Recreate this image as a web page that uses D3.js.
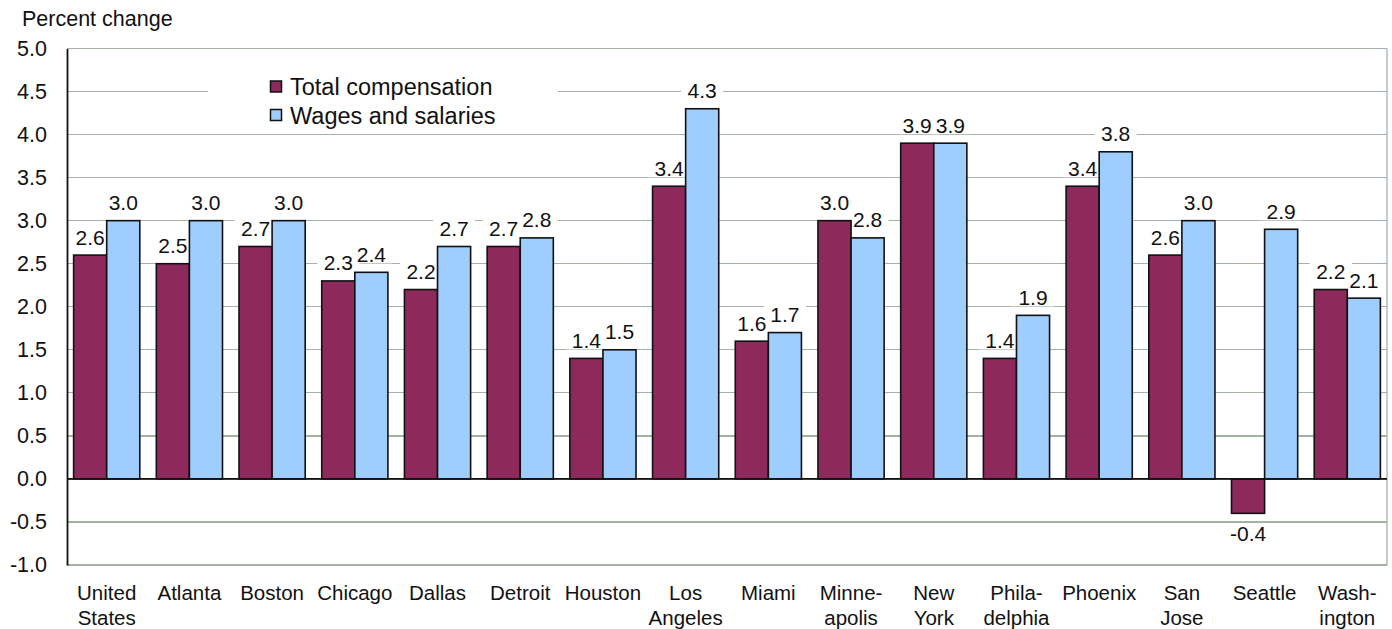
<!DOCTYPE html>
<html>
<head>
<meta charset="utf-8">
<script src="https://cdn.jsdelivr.net/npm/d3@7"></script>
<style>
  html, body { margin: 0; padding: 0; background: #fff; }
  svg { display: block; font-family: Arial, "Liberation Sans", sans-serif; }
</style>
</head>
<body>
<svg id="chart" width="1392" height="629"></svg>
<script>
// Metro areas (line breaks split with "\n")
const categories = [
  "United\nStates", "Atlanta", "Boston", "Chicago", "Dallas", "Detroit",
  "Houston", "Los\nAngeles", "Miami", "Minne-\napolis", "New\nYork",
  "Phila-\ndelphia", "Phoenix", "San\nJose", "Seattle", "Wash-\nington"
];
const seriesNames = ["Total compensation", "Wages and salaries"];
const totalCompensation = [2.6, 2.5, 2.7, 2.3, 2.2, 2.7, 1.4, 3.4, 1.6, 3.0, 3.9, 1.4, 3.4, 2.6, -0.4, 2.2];
const wagesAndSalaries  = [3.0, 3.0, 3.0, 2.4, 2.7, 2.8, 1.5, 4.3, 1.7, 2.8, 3.9, 1.9, 3.8, 3.0, 2.9, 2.1];
const yTicks = [-1.0, -0.5, 0.0, 0.5, 1.0, 1.5, 2.0, 2.5, 3.0, 3.5, 4.0, 4.5, 5.0];
const yTitle = "Percent change";

const colors = ["#8e2a5b", "#9fcdfd"];
const gridColor = "#a4b2a4";

const svg = d3.select("#chart");
const plot = { left: 67, right: 1387, top: 48.5, bottom: 565 };

const fmt = d3.formatLocale({ decimal: ".", thousands: ",", grouping: [3], currency: ["$", ""], minus: "-" }).format(".1f");

const y = d3.scaleLinear().domain([-1, 5]).range([plot.bottom, plot.top]);
const x0 = d3.scaleBand().domain(d3.range(categories.length))
  .range([plot.left, plot.right]).paddingInner(0.2).paddingOuter(0.08);
const x1 = d3.scaleBand().domain([0, 1]).range([0, x0.bandwidth()]).padding(0);

const rows = categories.map((c, i) => ({ i, c, vals: [totalCompensation[i], wagesAndSalaries[i]] }));

// Gridlines
svg.append("g")
  .selectAll("line").data(yTicks).join("line")
  .attr("x1", plot.left).attr("x2", plot.right)
  .attr("y1", d => y(d)).attr("y2", d => y(d))
  .attr("stroke", gridColor).attr("stroke-width", 1.3)
  .attr("shape-rendering", "crispEdges");

// Right border of plot area
svg.append("line")
  .attr("x1", plot.right).attr("x2", plot.right)
  .attr("y1", plot.top).attr("y2", plot.bottom)
  .attr("stroke", gridColor).attr("stroke-width", 1.3);

// Legend (white box hides gridlines behind it)
const legend = svg.append("g");
legend.append("rect").attr("x", 208).attr("y", 66).attr("width", 350).attr("height", 64).attr("fill", "#fff");
seriesNames.forEach((name, k) => {
  legend.append("rect")
    .attr("x", 270.5).attr("y", 81 + k * 28.5).attr("width", 11).attr("height", 11)
    .attr("fill", colors[k]).attr("stroke", "#111").attr("stroke-width", 1.5);
  legend.append("text")
    .attr("x", 290).attr("y", 95 + k * 28.5)
    .attr("font-size", 23.5).attr("fill", "#111").text(name);
});

// Value label positions
const labels = [];
rows.forEach(r => r.vals.forEach((v, k) => {
  const cx = x0(r.i) + x1(k) + x1.bandwidth() / 2;
  const cy = v >= 0 ? y(v) - 18 : y(v) + 20;
  labels.push({ v, cx, cy });
}));

// White backgrounds behind value labels
const labelG = svg.append("g");
labelG.selectAll("rect").data(labels).join("rect")
  .attr("x", d => d.cx - 21).attr("y", d => d.cy - 9)
  .attr("width", 42).attr("height", 18).attr("fill", "#fff");

// Bars
const groups = svg.append("g").selectAll("g").data(rows).join("g")
  .attr("transform", d => `translate(${x0(d.i)},0)`);
groups.selectAll("rect").data(d => d.vals.map((v, k) => ({ v, k }))).join("rect")
  .attr("x", d => x1(d.k))
  .attr("width", x1.bandwidth())
  .attr("y", d => y(Math.max(0, d.v)))
  .attr("height", d => Math.abs(y(d.v) - y(0)))
  .attr("fill", d => colors[d.k])
  .attr("stroke", "#111").attr("stroke-width", 1.6);

// Value labels
svg.append("g").selectAll("text").data(labels).join("text")
  .attr("x", d => d.cx).attr("y", d => d.cy + 7.5)
  .attr("text-anchor", "middle").attr("font-size", 21).attr("fill", "#111")
  .text(d => fmt(d.v));

// Zero line
svg.append("line")
  .attr("x1", plot.left).attr("x2", plot.right)
  .attr("y1", y(0)).attr("y2", y(0))
  .attr("stroke", "#111").attr("stroke-width", 1.6);

// Y axis
const yAxis = svg.append("g")
  .attr("transform", `translate(${plot.left},0)`)
  .call(d3.axisLeft(y).tickValues(yTicks).tickFormat(fmt).tickSize(0).tickPadding(20));
yAxis.select(".domain").attr("stroke", "#111").attr("stroke-width", 1.8);
yAxis.selectAll("text").attr("font-size", 21.5).attr("fill", "#111")
  .attr("font-family", "Arial, 'Liberation Sans', sans-serif");

// Category labels
const catG = svg.append("g").selectAll("text").data(rows).join("text")
  .attr("x", d => x0(d.i) + x0.bandwidth() / 2)
  .attr("y", 600)
  .attr("text-anchor", "middle").attr("font-size", 20.5).attr("fill", "#111");
catG.selectAll("tspan").data(d => d.c.split("\n")).join("tspan")
  .attr("x", function () { return d3.select(this.parentNode).attr("x"); })
  .attr("dy", (d, j) => j === 0 ? 0 : 25)
  .text(d => d);

// Axis title
svg.append("text").attr("x", 22).attr("y", 26)
  .attr("font-size", 21.5).attr("fill", "#111").text(yTitle);
</script>
</body>
</html>
